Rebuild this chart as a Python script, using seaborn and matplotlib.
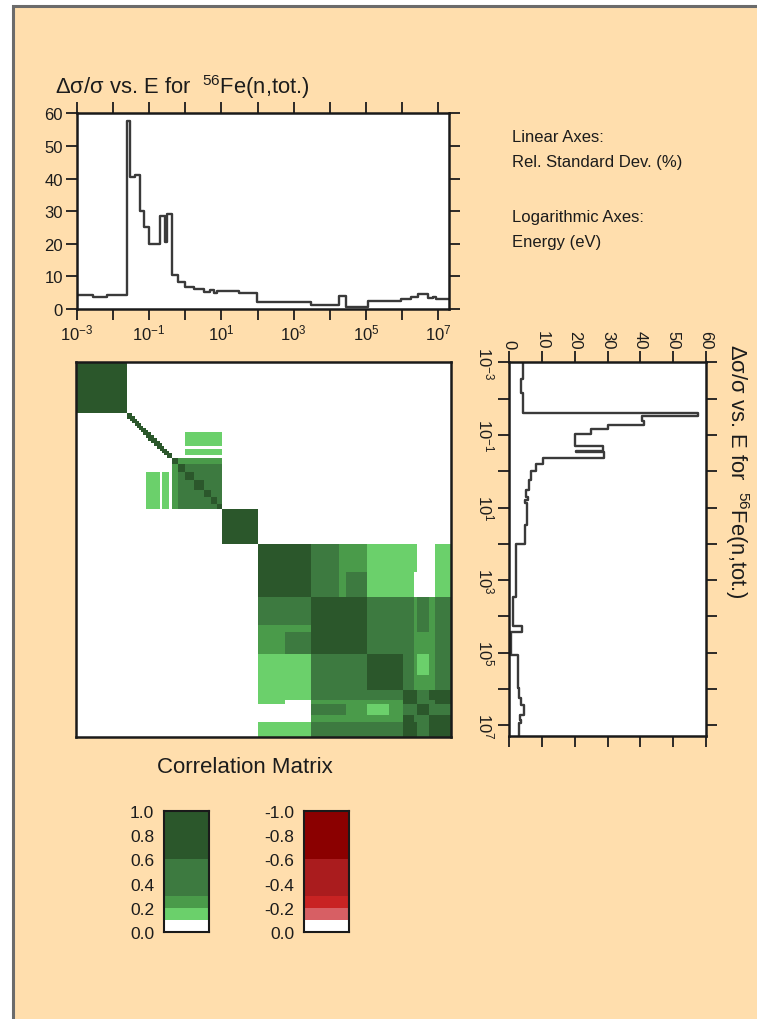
import numpy as np
import matplotlib
matplotlib.use("Agg")
import matplotlib.pyplot as plt
import seaborn as sns
from matplotlib.colors import ListedColormap, BoundaryNorm
from matplotlib.patches import Rectangle
from matplotlib.ticker import NullLocator

# ---------------- data ----------------
# relative standard deviation (%) per energy group, 56Fe(n,tot.)
std_edges_ev = [1e-3, 2.9e-3, 7.1e-3, 0.0253, 0.030, 0.0414, 0.0547, 0.0705, 0.097,
                0.205, 0.27, 0.305, 0.43, 0.63, 1.0, 1.72, 3.25, 4.98, 6.15, 7.62,
                30.3, 98.0, 2950.0, 1.8e4, 2.75e4, 1.15e5, 9.2e5, 1.75e6, 2.67e6,
                5.06e6, 6.97e6, 8.6e6, 2.0e7]
rel_std_pct = [4.4, 3.8, 4.4, 57.5, 40.5, 41.0, 30.0, 25.0, 20.0,
               28.5, 20.5, 29.0, 10.3, 8.3, 6.8, 6.0, 5.3, 5.8, 5.0, 5.5,
               5.0, 2.2, 1.2, 3.9, 0.6, 2.6, 3.1, 3.8, 4.6,
               3.4, 3.8, 3.0]

# correlation-matrix group structure (eV)
mat_edges_ev = [1e-3, 2.9e-3, 7.1e-3, 0.0254, 0.030, 0.0355, 0.0417, 0.0479, 0.055,
                0.063, 0.071, 0.083, 0.098, 0.117, 0.141, 0.17, 0.204, 0.234, 0.27,
                0.313, 0.363, 0.43, 0.63, 1.0, 1.72, 3.24, 5.0, 7.6, 10.5, 30.0,
                100.0, 560.0, 2820.0, 1.66e4, 2.63e4, 1e5, 4e5, 1e6, 1.95e6, 2.4e6,
                5e6, 7.6e6, 2e7]

# energy range where neighbouring groups are strongly correlated (staircase)
neighbour_band_ev = (0.0254, 0.43)
neighbour_corr = 0.75

# correlation blocks: (row E lo, row E hi, col E lo, col E hi, correlation)
corr_blocks = [
    (1e-3, 0.0254, 1e-3, 0.0254, 0.95),
    (0.43, 10.5, 0.43, 10.5, 0.45),
    (0.43, 0.63, 0.63, 10.5, 0.22),
    (0.083, 0.204, 1.0, 10.5, 0.15),
    (0.234, 0.363, 1.0, 10.5, 0.15),
    (10.5, 100.0, 10.5, 100.0, 0.95),
    (100.0, 2820.0, 100.0, 2820.0, 0.95),
    (2820.0, 1e5, 2820.0, 1e5, 0.95),
    (1e5, 1e6, 1e5, 1e6, 0.95),
    (100.0, 2820.0, 2820.0, 1.66e4, 0.45),
    (100.0, 2820.0, 1.66e4, 1e5, 0.25),
    (560.0, 2820.0, 2.63e4, 1e5, 0.45),
    (100.0, 2820.0, 1e5, 1.95e6, 0.15),
    (100.0, 560.0, 1.95e6, 2.4e6, 0.15),
    (100.0, 2820.0, 7.6e6, 2e7, 0.15),
    (2820.0, 1e5, 1e5, 1.95e6, 0.45),
    (2820.0, 1e6, 1.95e6, 7.6e6, 0.25),
    (2820.0, 2.63e4, 2.4e6, 5e6, 0.45),
    (1e5, 4e5, 2.4e6, 5e6, 0.15),
    (2820.0, 1e6, 7.6e6, 2e7, 0.45),
    (1e5, 1e6, 1e6, 1.95e6, 0.45),
    (1e6, 2e7, 1e6, 2e7, 0.45),
    (1e6, 1.95e6, 1.95e6, 2.4e6, 0.75),
    (1e6, 1.95e6, 5e6, 2e7, 0.75),
    (1.95e6, 2.4e6, 7.6e6, 2e7, 0.75),
    (5e6, 7.6e6, 7.6e6, 2e7, 0.75),
]

corr_levels = [0.0, 0.1, 0.2, 0.3, 0.6, 1.0]
neg_levels = [-1.0, -0.6, -0.3, -0.2, -0.1, 0.0]
legend_ticks = [0.0, 0.2, 0.4, 0.6, 0.8, 1.0]
green_colors = ["#FFFFFF", "#6BD06B", "#4A9B4A", "#3D7A40", "#2B572B"]
red_colors = ["#8B0000", "#AA1C1E", "#C82323", "#D75F64", "#FFFFFF"]

title_txt = r"Δσ/σ vs. E for  $^{56}$Fe(n,tot.)"

# ---------------- style ----------------
sns.set_theme(style="ticks")
plt.rcParams["font.family"] = ["Liberation Sans", "DejaVu Sans"]
plt.rcParams.update({
    "mathtext.fontset": "custom",
    "mathtext.rm": "Liberation Sans",
    "mathtext.it": "Liberation Sans:italic",
    "mathtext.bf": "Liberation Sans:bold",
    "axes.unicode_minus": False,
})
TXT = "#1c1c1c"
LINE = "#3a3a3a"
BG = "#FFDEAD"

W, H = 757, 1020
fig = plt.figure(figsize=(W / 100, H / 100), dpi=100, facecolor="white")
fig.patches.append(Rectangle((13 / W, -0.05), 1.2, 1.05 - 7 / H,
                             transform=fig.transFigure, facecolor=BG,
                             edgecolor="#6b6b6b", lw=2.2, zorder=-10))


def px_axes(x0, y0, x1, y1):
    return fig.add_axes([x0 / W, 1 - y1 / H, (x1 - x0) / W, (y1 - y0) / H])


def style_spines(ax, lw=1.8):
    for sp in ax.spines.values():
        sp.set_visible(True)
        sp.set_linewidth(lw)
        sp.set_color("#1a1a1a")


e = np.array(std_edges_ev)
v = np.array(rel_std_pct)
step_e = np.repeat(e, 2)[1:-1]
step_v = np.repeat(v, 2)
decades = list(range(-3, 8))
dec_ticks = [10.0 ** k for k in decades]
dec_labels = [(r"$10^{%d}$" % k) if k % 2 else "" for k in decades]

# ---------------- top step plot ----------------
ax_top = px_axes(76.7, 114.3, 449.3, 310)
ax_top.set_facecolor("white")
ax_top.set_xscale("log")
sns.lineplot(x=step_e, y=step_v, ax=ax_top, sort=False, estimator=None,
             color=LINE, lw=1.7)
ax_top.set_xlim(1e-3, 2e7)
ax_top.set_ylim(0, 60)
ax_top.set_xticks(dec_ticks)
ax_top.set_xticklabels(dec_labels)
ax_top.xaxis.set_minor_locator(NullLocator())
ax_top.set_yticks(range(0, 61, 10))
ax_top.tick_params(which="major", direction="out", length=8, width=1.3,
                   top=True, right=True, labelsize=12, pad=2, colors=TXT)
ax_top.set_xlabel("")
ax_top.set_ylabel("")
style_spines(ax_top)
fig.text(55 / W, 1 - 94 / H, title_txt, ha="left", va="baseline",
         fontsize=15.8, color=TXT)

# ---------------- correlation matrix ----------------
me = np.array(mat_edges_ev)
centers = np.sqrt(me[:-1] * me[1:])
n = len(centers)
M = np.zeros((n, n))
for r0, r1, c0, c1, val in corr_blocks:
    ri = (centers > r0) & (centers < r1)
    ci = (centers > c0) & (centers < c1)
    M[np.ix_(ri, ci)] = val
    M[np.ix_(ci, ri)] = val
band = np.where((centers > neighbour_band_ev[0]) & (centers < neighbour_band_ev[1]))[0]
for i in band[:-1]:
    M[i, i + 1] = M[i + 1, i] = neighbour_corr
np.fill_diagonal(M, 1.0)

gcmap = ListedColormap(green_colors)
gnorm = BoundaryNorm(corr_levels, ncolors=len(green_colors), clip=True)
ax_mat = px_axes(76, 363.3, 450.7, 738.3)
ax_mat.pcolormesh(me, me, M, cmap=gcmap, norm=gnorm, shading="flat")
ax_mat.set_xscale("log")
ax_mat.set_yscale("log")
ax_mat.set_xlim(1e-3, 2e7)
ax_mat.set_ylim(2e7, 1e-3)
ax_mat.set_xticks([])
ax_mat.set_yticks([])
ax_mat.xaxis.set_minor_locator(NullLocator())
ax_mat.yaxis.set_minor_locator(NullLocator())
style_spines(ax_mat)
fig.text(245 / W, 1 - 768 / H, "Correlation Matrix", ha="center", va="center",
         fontsize=16, color=TXT)

# ---------------- rotated step plot ----------------
ax_rt = px_axes(509, 363.3, 706, 737.3)
ax_rt.set_facecolor("white")
ax_rt.set_yscale("log")
sns.lineplot(x=step_v, y=step_e, ax=ax_rt, sort=False, estimator=None,
             orient="y", color=LINE, lw=1.7)
ax_rt.set_xlim(0, 60)
ax_rt.set_ylim(2e7, 1e-3)
ax_rt.set_yticks(dec_ticks)
ax_rt.set_yticklabels(dec_labels, rotation=-90, va="center")
ax_rt.yaxis.set_minor_locator(NullLocator())
ax_rt.set_xticks(range(0, 61, 10))
ax_rt.set_xticklabels([str(t) for t in range(0, 61, 10)], rotation=-90)
ax_rt.tick_params(which="major", direction="out", length=8, width=1.3,
                  top=True, right=True, bottom=True, left=True,
                  labeltop=True, labelbottom=False, labelsize=12, pad=2,
                  colors=TXT)
ax_rt.set_xlabel("")
ax_rt.set_ylabel("")
style_spines(ax_rt)
fig.text(737 / W, 1 - 344 / H, title_txt, ha="center", va="top",
         rotation=-90, fontsize=15.8, color=TXT)

# ---------------- side notes ----------------
for txt, y in [("Linear Axes:", 142), ("Rel. Standard Dev. (%)", 167),
               ("Logarithmic Axes:", 222), ("Energy (eV)", 247)]:
    fig.text(512 / W, 1 - y / H, txt, ha="left", va="baseline",
             fontsize=12, color=TXT)

# ---------------- legends ----------------
lv = np.array(corr_levels)
ax_lg = px_axes(164, 812, 209, 933)
ax_lg.pcolormesh([0, 1], lv, ((lv[:-1] + lv[1:]) / 2)[:, None],
                 cmap=gcmap, norm=gnorm, shading="flat")
ax_lg.set_xlim(0, 1)
ax_lg.set_ylim(0, 1)
ax_lg.set_xticks([])
ax_lg.set_yticks(legend_ticks)
ax_lg.set_yticklabels(["%.1f" % t for t in legend_ticks])
ax_lg.tick_params(length=0, labelsize=12.5, pad=7, colors=TXT)
style_spines(ax_lg, 1.5)

nv = np.array(neg_levels)
rcmap = ListedColormap(red_colors)
rnorm = BoundaryNorm(neg_levels, ncolors=len(red_colors), clip=True)
ax_lr = px_axes(304, 812, 349, 933)
ax_lr.pcolormesh([0, 1], nv, ((nv[:-1] + nv[1:]) / 2)[:, None],
                 cmap=rcmap, norm=rnorm, shading="flat")
ax_lr.set_xlim(0, 1)
ax_lr.set_ylim(0, -1)
ax_lr.set_xticks([])
neg_ticks = [-t for t in legend_ticks]
ax_lr.set_yticks(neg_ticks)
ax_lr.set_yticklabels(["0.0" if t == 0 else "%.1f" % t for t in neg_ticks])
ax_lr.tick_params(length=0, labelsize=12.5, pad=7, colors=TXT)
style_spines(ax_lr, 1.5)

fig.savefig("out.png", dpi=100, facecolor="white")
